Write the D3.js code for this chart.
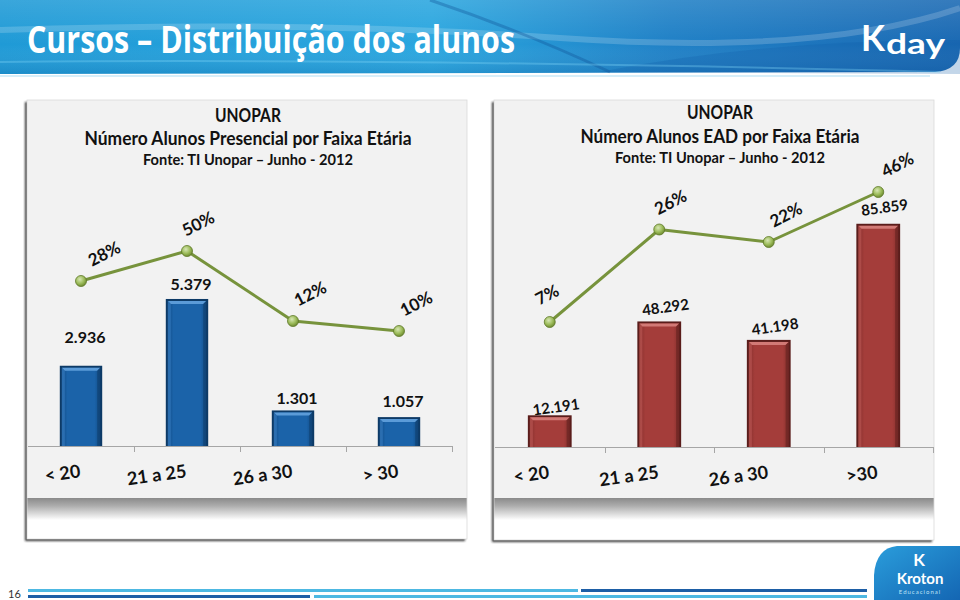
<!DOCTYPE html>
<html><head><meta charset="utf-8">
<script src="https://cdn.jsdelivr.net/npm/d3@7/dist/d3.min.js"></script>
<style>
body{margin:0;background:#fff}
svg{display:block;font-family:Lato,"Open Sans",sans-serif}
</style>
</head><body>
<svg id="c" width="960" height="600"></svg>
<script>
// ---------- DATA ----------
const pageTitle = "Cursos – Distribuição dos alunos";
const categoriesPresencial = ["< 20", "21 a 25", "26 a 30", "> 30"];
const alunosPresencial = [2936, 5379, 1301, 1057];
const pctPresencial = ["28%", "50%", "12%", "10%"];
const trendPresencial = [66, 78, 50, 46];          // line level on hidden secondary axis
const titlePresencial = ["UNOPAR", "Número Alunos Presencial por Faixa Etária", "Fonte: TI Unopar – Junho - 2012"];

const categoriesEAD = ["< 20", "21 a 25", "26 a 30", ">30"];
const alunosEAD = [12191, 48292, 41198, 85859];
const pctEAD = ["7%", "26%", "22%", "46%"];
const trendEAD = [50, 87, 82, 102];                // line level on hidden secondary axis
const titleEAD = ["UNOPAR", "Número Alunos EAD por Faixa Etária", "Fonte: TI Unopar – Junho - 2012"];

const pageNumber = "16";

// ---------- SETUP ----------
const svg = d3.select("#c");
const defs = svg.append("defs");
const fmt = v => d3.format(",")(v).replace(/,/g, ".");

// header gradient
const hg = defs.append("linearGradient").attr("id", "hdr").attr("x1", 0).attr("x2", 1).attr("y1", 0).attr("y2", 0);
hg.append("stop").attr("offset", "0%").attr("stop-color", "#1f9ad6");
hg.append("stop").attr("offset", "45%").attr("stop-color", "#2aa6df");
hg.append("stop").attr("offset", "70%").attr("stop-color", "#1f80c6");
hg.append("stop").attr("offset", "100%").attr("stop-color", "#1a69b3");
const hv = defs.append("linearGradient").attr("id", "hdrv").attr("x1", 0).attr("x2", 0).attr("y1", 0).attr("y2", 1);
hv.append("stop").attr("offset", "0%").attr("stop-color", "#ffffff").attr("stop-opacity", 0.12);
hv.append("stop").attr("offset", "60%").attr("stop-color", "#ffffff").attr("stop-opacity", 0);
hv.append("stop").attr("offset", "100%").attr("stop-color", "#003a7a").attr("stop-opacity", 0.15);

// panel shadow band
const sb = defs.append("linearGradient").attr("id", "band").attr("x1", 0).attr("x2", 0).attr("y1", 0).attr("y2", 1);
sb.append("stop").attr("offset", "0%").attr("stop-color", "#8a8a8a");
sb.append("stop").attr("offset", "35%").attr("stop-color", "#acacac");
sb.append("stop").attr("offset", "100%").attr("stop-color", "#ffffff");

const ds = defs.append("filter").attr("id", "ds").attr("x", "-5%").attr("y", "-5%").attr("width", "110%").attr("height", "110%");
ds.append("feDropShadow").attr("dx", -2).attr("dy", 2).attr("stdDeviation", 1.2).attr("flood-color", "#222").attr("flood-opacity", 0.9);

// marker gradient
const mg = defs.append("radialGradient").attr("id", "mk").attr("cx", "40%").attr("cy", "35%").attr("r", "65%");
mg.append("stop").attr("offset", "0%").attr("stop-color", "#d7e6b4");
mg.append("stop").attr("offset", "60%").attr("stop-color", "#9bbb59");
mg.append("stop").attr("offset", "100%").attr("stop-color", "#6f8b32");

function barGrad(id, c1, c2) {
  const g = defs.append("linearGradient").attr("id", id).attr("x1", 0).attr("x2", 1).attr("y1", 0).attr("y2", 0);
  g.append("stop").attr("offset", "0%").attr("stop-color", c2);
  g.append("stop").attr("offset", "15%").attr("stop-color", c1);
  g.append("stop").attr("offset", "85%").attr("stop-color", c1);
  g.append("stop").attr("offset", "100%").attr("stop-color", c2);
}
barGrad("blueBar", "#1b63a9", "#124d88");
barGrad("redBar", "#a43d3a", "#86302d");

// ---------- HEADER ----------
svg.append("rect").attr("x", 0).attr("y", 0).attr("width", 960).attr("height", 600).attr("fill", "#fff");
const hdrPath = "M0,0 H960 V48 Q960,70 935,72 L0,74 Z";
svg.append("path").attr("d", hdrPath).attr("fill", "url(#hdr)");
svg.append("path").attr("d", hdrPath).attr("fill", "url(#hdrv)");
// swooshes
svg.append("path").attr("d", "M0,30 Q300,20 560,38 T960,8").attr("fill", "none").attr("stroke", "#ffffff").attr("stroke-opacity", 0.18).attr("stroke-width", 6);
svg.append("path").attr("d", "M430,0 Q520,30 610,72").attr("fill", "none").attr("stroke", "#0d4f94").attr("stroke-opacity", 0.35).attr("stroke-width", 3);
svg.append("path").attr("d", "M600,72 Q760,40 960,40 V74 Z").attr("fill", "#0e5aa6").attr("fill-opacity", 0.25);
svg.append("path").attr("d", "M0,62 Q400,58 940,72").attr("fill", "none").attr("stroke", "#7fd3f5").attr("stroke-opacity", 0.35).attr("stroke-width", 2);
svg.append("path").attr("d", "M0,76 L930,76").attr("stroke", "#d6eef9").attr("stroke-width", 2);

svg.append("text").attr("x", 27).attr("y", 53)
  .attr("font-size", 38).attr("font-weight", 700).attr("fill", "#fff")
  .attr("textLength", 488).attr("lengthAdjust", "spacingAndGlyphs")
  .style("font-family", "'Open Sans',Lato,sans-serif")
  .text(pageTitle);

// Kday logo
const kd = svg.append("g");
kd.append("text").attr("x", 861).attr("y", 51).attr("font-size", 36).attr("font-weight", 700).attr("fill", "#fff")
  .attr("textLength", 24).attr("lengthAdjust", "spacingAndGlyphs").text("K");
kd.append("text").attr("x", 886).attr("y", 54).attr("font-size", 28).attr("font-weight", 700).attr("fill", "#fff")
  .attr("textLength", 59).attr("lengthAdjust", "spacingAndGlyphs").text("day");

// ---------- CHART FUNCTION ----------
function drawChart(cfg) {
  const g = svg.append("g");
  const P = cfg.panel;
  // panel
  g.append("rect").attr("x", P.x).attr("y", P.y).attr("width", P.w).attr("height", P.h)
    .attr("fill", "#fff").attr("filter", "url(#ds)");
  g.append("rect").attr("x", P.x).attr("y", P.y).attr("width", P.w).attr("height", P.grayH).attr("fill", "#f2f2f2");
  g.append("rect").attr("x", P.x).attr("y", P.y + P.grayH).attr("width", P.w).attr("height", 22).attr("fill", "url(#band)");
  g.append("rect").attr("x", P.x).attr("y", P.y).attr("width", P.w).attr("height", P.h)
    .attr("fill", "none").attr("stroke", "#d9d9d9").attr("stroke-width", 0.8);

  // scales
  const x = d3.scaleBand().domain(cfg.categories).range(cfg.xRange).paddingInner(0.6).paddingOuter(0.3);
  const y = d3.scaleLinear().domain([0, cfg.yMax]).range([cfg.baseline, cfg.yTop]);
  const y2 = d3.scaleLinear().domain([0, 100]).range([cfg.baseline, cfg.baseline - 250]);

  // title
  cfg.title.forEach((t, i) => {
    g.append("text").attr("x", cfg.titleX).attr("y", cfg.titleY[i]).attr("text-anchor", "middle")
      .attr("font-size", i === 2 ? 16 : 19).attr("font-weight", 700).attr("fill", "#111")
      .attr("textLength", cfg.titleW[i]).attr("lengthAdjust", "spacingAndGlyphs").text(t);
  });

  // axis line + ticks at band boundaries
  const [r0, r1] = cfg.xRange;
  g.append("line").attr("x1", r0).attr("x2", r1).attr("y1", cfg.baseline + 0.5).attr("y2", cfg.baseline + 0.5)
    .attr("stroke", "#a6a6a6").attr("stroke-width", 1);
  const bounds = d3.range(1, cfg.categories.length + 1).map(i => r0 + i * x.step());
  g.selectAll(".tk").data(bounds).join("line")
    .attr("x1", d => Math.round(d) + 0.5).attr("x2", d => Math.round(d) + 0.5)
    .attr("y1", cfg.baseline).attr("y2", cfg.baseline + 6).attr("stroke", "#a6a6a6");

  // bars
  const bw = x.bandwidth();
  const bars = g.selectAll(".bar").data(cfg.values).join("g");
  bars.each(function (d, i) {
    const b = d3.select(this);
    const bx = x(cfg.categories[i]), by = y(d), bh = cfg.baseline - y(d);
    b.append("rect").attr("x", bx).attr("y", by).attr("width", bw).attr("height", bh).attr("fill", cfg.colors.border);
    b.append("rect").attr("x", bx + 2).attr("y", by + 2).attr("width", bw - 4).attr("height", bh - 2).attr("fill", `url(#${cfg.colors.grad})`);
    b.append("path").attr("d", `M${bx + 2},${by + 2}H${bx + bw - 2}L${bx + bw - 5},${by + 5}H${bx + 5}Z`).attr("fill", cfg.colors.hi);
    b.append("path").attr("d", `M${bx + 2},${by + 2}L${bx + 5},${by + 5}V${cfg.baseline}H${bx + 2}Z`).attr("fill", cfg.colors.side).attr("opacity", 0.6);
    b.append("path").attr("d", `M${bx + bw - 2},${by + 2}L${bx + bw - 5},${by + 5}V${cfg.baseline}H${bx + bw - 2}Z`).attr("fill", cfg.colors.border).attr("opacity", 0.5);
  });

  // value labels
  g.selectAll(".vl").data(cfg.values).join("text")
    .attr("transform", (d, i) => `translate(${x(cfg.categories[i]) + bw / 2 + cfg.valDx},${y(d) + cfg.valDy[i]}) rotate(${cfg.valRot})`)
    .attr("text-anchor", "middle").attr("font-size", cfg.valSize).attr("font-weight", 700).attr("fill", "#111")
    .text(d => fmt(d));

  // category labels
  g.selectAll(".cl").data(cfg.categories).join("text")
    .attr("transform", d => `translate(${x(d) + bw / 2},${cfg.baseline + 31}) rotate(-8)`)
    .attr("text-anchor", "end").attr("font-size", 18).attr("font-weight", 700).attr("fill", "#111")
    .text(d => d);

  // trend line
  const pts = cfg.trend.map((v, i) => [x(cfg.categories[i]) + bw / 2, y2(v)]);
  g.append("path").attr("d", d3.line()(pts)).attr("fill", "none").attr("stroke", "#77933c").attr("stroke-width", 3)
    .attr("stroke-linejoin", "round");
  g.selectAll(".mk").data(pts).join("circle").attr("cx", d => d[0]).attr("cy", d => d[1]).attr("r", 5.5)
    .attr("fill", "url(#mk)").attr("stroke", "#5f7a2a").attr("stroke-width", 0.8);

  // percentage labels
  g.selectAll(".pl").data(cfg.pct).join("text")
    .attr("transform", (d, i) => `translate(${pts[i][0] + cfg.pctDx[i]},${pts[i][1] - 22}) rotate(-27)`)
    .attr("text-anchor", "middle").attr("font-size", 17).attr("font-weight", 700).attr("fill", "#111")
    .text(d => d);
}

drawChart({
  panel: { x: 27, y: 100, w: 440, h: 439, grayH: 398 },
  categories: categoriesPresencial, values: alunosPresencial, pct: pctPresencial, trend: trendPresencial,
  title: titlePresencial, titleX: 248, titleY: [122, 145, 165], titleW: [66, 327, 210],
  xRange: [28, 452], baseline: 446, yMax: 6000, yTop: 282,
  valDx: 4, valDy: [-23, -9, -6, -10], valRot: 0, valSize: 16,
  pctDx: [26, 14, 20, 20],
  colors: { border: "#0d3a66", grad: "blueBar", hi: "#5b9bd8", side: "#3b80c4" }
});

drawChart({
  panel: { x: 494, y: 100, w: 440, h: 440, grayH: 398 },
  categories: categoriesEAD, values: alunosEAD, pct: pctEAD, trend: trendEAD,
  title: titleEAD, titleX: 720, titleY: [119, 143, 163], titleW: [66, 279, 210],
  xRange: [495, 933], baseline: 447, yMax: 100000, yTop: 187,
  valDx: 7, valDy: [-3, -9, -8, -11], valRot: -8, valSize: 15,
  pctDx: [0, 14, 20, 22],
  colors: { border: "#5a1d1b", grad: "redBar", hi: "#d27a76", side: "#c05a56" }
});

// ---------- FOOTER ----------
svg.append("text").attr("x", 8).attr("y", 598).attr("font-size", 11).attr("fill", "#333").text(pageNumber);
svg.append("rect").attr("x", 28).attr("y", 589).attr("width", 550).attr("height", 3).attr("fill", "#4db8e2");
svg.append("rect").attr("x", 581).attr("y", 589).attr("width", 286).attr("height", 3).attr("fill", "#1d5ea6");
svg.append("rect").attr("x", 28).attr("y", 595).attr("width", 282).attr("height", 3).attr("fill", "#1d5ea6");
svg.append("rect").attr("x", 314).attr("y", 595).attr("width", 553).attr("height", 3).attr("fill", "#4db8e2");

// Kroton logo
const kg = defs.append("linearGradient").attr("id", "kro").attr("x1", 0).attr("x2", 1).attr("y1", 0).attr("y2", 1);
kg.append("stop").attr("offset", "0%").attr("stop-color", "#2a9ddb");
kg.append("stop").attr("offset", "100%").attr("stop-color", "#1466b3");
svg.append("path").attr("d", "M960,546 H897 Q876,548 874,575 V600 H960 Z").attr("fill", "url(#kro)");
svg.append("text").attr("x", 919).attr("y", 566).attr("text-anchor", "middle").attr("font-size", 17).attr("font-weight", 700).attr("fill", "#fff").text("K");
svg.append("text").attr("x", 920).attr("y", 584).attr("text-anchor", "middle").attr("font-size", 15).attr("font-weight", 700).attr("fill", "#fff").text("Kroton");
svg.append("text").attr("x", 920).attr("y", 594).attr("text-anchor", "middle").attr("font-size", 6).attr("fill", "#bfe3f7").attr("letter-spacing", 1).text("Educacional");
</script>
</body></html>
